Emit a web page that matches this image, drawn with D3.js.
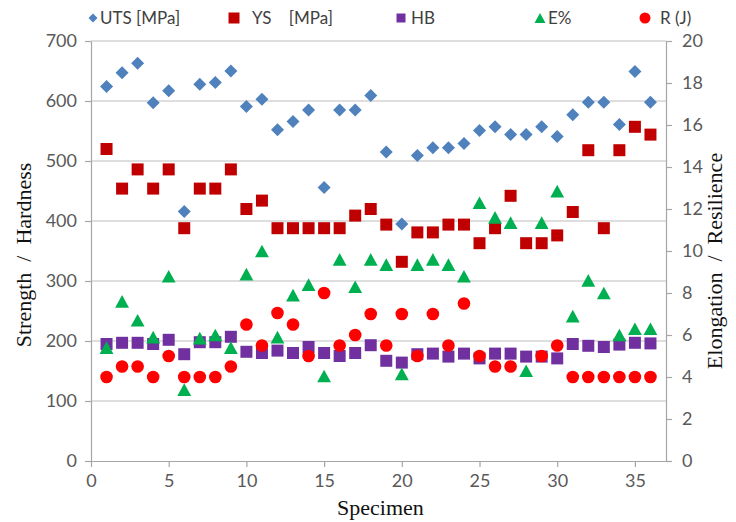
<!DOCTYPE html>
<html>
<head>
<meta charset="utf-8">
<script src="https://cdn.jsdelivr.net/npm/d3@7"></script>
<style>
  html, body { margin: 0; padding: 0; background: #fff; }
  svg { display: block; }
</style>
</head>
<body>
<svg id="chart" width="736" height="522"></svg>
<script>
// Mechanical properties per specimen
const specimens = [1,2,3,4,5,6,7,8,9,10,11,12,13,14,15,16,17,18,19,20,21,22,23,24,25,26,27,28,29,30,31,32,33,34,35,36];
const uts = [624,647,663,597,617,416,628,631,650,591,603,552,566,585,456,585,585,609,515,395,509,522,522,529,551,557,544,544,557,541,577,598,598,561,649,598];
const ys  = [520,454,486,454,486,388,454,454,486,420,434,388,388,388,388,388,409,420,394,332,381,381,394,394,363,388,442,363,363,376,415,518,388,518,557,544];
const hb  = [195,197,197,195,202,178,198,198,207,182,180,184,180,190,180,175,180,193,167,164,178,179,174,179,171,179,179,174,174,171,195,192,190,194,197,196];
const elong = [5.4,7.6,6.7,5.9,8.8,3.4,5.85,6.0,5.4,8.9,10.0,5.9,7.9,8.4,4.05,9.6,8.3,9.6,9.35,4.15,9.35,9.6,9.35,8.8,12.3,11.6,11.35,4.3,11.35,12.85,6.9,8.6,8.0,6.0,6.3,6.3];
const resil = [4.0,4.5,4.5,4.0,5.0,4.0,4.0,4.0,4.5,6.5,5.5,7.05,6.5,5.0,8.0,5.5,6.0,7.0,5.5,7.0,5.0,7.0,5.5,7.5,5.0,4.5,4.5,null,5.0,5.5,4.0,4.0,4.0,4.0,4.0,4.0];

const leftTicks  = [0,100,200,300,400,500,600,700];
const rightTicks = [0,2,4,6,8,10,12,14,16,18,20];
const xTicks     = [0,5,10,15,20,25,30,35];

const svg = d3.select("#chart");
const m = { left: 91, right: 666, top: 41, bottom: 461 };

const x  = d3.scaleLinear().domain([0, 37]).range([m.left, m.right]);
const yL = d3.scaleLinear().domain([0, 700]).range([m.bottom, m.top]);
const yR = d3.scaleLinear().domain([0, 20]).range([m.bottom, m.top]);

const tickFont = "Lato, 'Open Sans', sans-serif";
const titleFont = "'Liberation Serif', 'DejaVu Serif', serif";
const axisGrey = "#a6a6a6";
const textGrey = "#595959";

// horizontal gridlines on the strength axis
svg.append("g")
  .selectAll("line")
  .data(leftTicks.slice(1))
  .join("line")
  .attr("x1", m.left).attr("x2", m.right)
  .attr("y1", d => yL(d)).attr("y2", d => yL(d))
  .attr("stroke", "#bdbdbd").attr("stroke-width", 1.2);

function styleAxis(g) {
  g.select(".domain").attr("stroke", axisGrey).attr("stroke-width", 1.2);
  g.selectAll(".tick line").attr("stroke", axisGrey).attr("stroke-width", 1.2);
  g.selectAll(".tick text")
    .attr("fill", textGrey)
    .style("font-family", tickFont)
    .style("font-size", "18px");
}

svg.append("g")
  .attr("transform", `translate(${m.left},0)`)
  .call(d3.axisLeft(yL).tickValues(leftTicks).tickSize(6).tickSizeOuter(0).tickPadding(8))
  .call(styleAxis);

svg.append("g")
  .attr("transform", `translate(${m.right},0)`)
  .call(d3.axisRight(yR).tickValues(rightTicks).tickSize(6).tickSizeOuter(0).tickPadding(10))
  .call(styleAxis);

svg.append("g")
  .attr("transform", `translate(0,${m.bottom})`)
  .call(d3.axisBottom(x).tickValues(xTicks).tickSize(6).tickSizeOuter(0).tickPadding(7))
  .call(styleAxis);

// axis titles
svg.append("text")
  .attr("transform", `translate(31,${(m.top + m.bottom) / 2 + 4}) rotate(-90)`)
  .attr("text-anchor", "middle")
  .style("font-family", titleFont).style("font-size", "22px")
  .attr("fill", "#111")
  .attr("xml:space", "preserve")
  .text("Strength  /  Hardness");

svg.append("text")
  .attr("transform", `translate(722,${(m.top + m.bottom) / 2 + 10}) rotate(-90)`)
  .attr("text-anchor", "middle")
  .style("font-family", titleFont).style("font-size", "22px")
  .attr("fill", "#111")
  .attr("xml:space", "preserve")
  .text("Elongation  /  Resilience");

svg.append("text")
  .attr("x", (m.left + m.right) / 2 + 2).attr("y", 515)
  .attr("text-anchor", "middle")
  .style("font-family", titleFont).style("font-size", "22px")
  .attr("fill", "#111")
  .text("Specimen");

// marker shapes
const shapes = {
  diamond: s => `M0,${-s}L${s},0L0,${s}L${-s},0Z`,
  square: s => `M${-s},${-s}H${s}V${s}H${-s}Z`,
  triangle: s => `M0,${-s}L${s * 1.1},${s}L${-s * 1.1},${s}Z`,
  circle: s => d3.arc()({ innerRadius: 0, outerRadius: s, startAngle: 0, endAngle: 2 * Math.PI })
};

const series = [
  { name: "UTS [MPa]",   values: uts,   scale: yL, shape: "diamond",  size: 6.5, color: "#4f81bd" },
  { name: "YS    [MPa]", values: ys,    scale: yL, shape: "square",   size: 6,   color: "#c00000" },
  { name: "HB",          values: hb,    scale: yL, shape: "square",   size: 6,   color: "#7030a0" },
  { name: "E%",          values: elong, scale: yR, shape: "triangle", size: 6.3, color: "#00b050" },
  { name: "R (J)",       values: resil, scale: yR, shape: "circle",   size: 6.3, color: "#ff0000" }
];

series.forEach(s => {
  const pts = specimens.map((sp, i) => ({ sp, v: s.values[i] })).filter(d => d.v != null);
  svg.append("g")
    .selectAll("path")
    .data(pts)
    .join("path")
    .attr("transform", d => `translate(${x(d.sp)},${s.scale(d.v)})`)
    .attr("d", shapes[s.shape](s.size))
    .attr("fill", s.color);
});

// legend across the top
const legendItems = [
  { i: 0, mx: 93,  tx: 100, size: 4.5 },
  { i: 1, mx: 234, tx: 252, size: 5.5 },
  { i: 2, mx: 401, tx: 411, size: 4.5 },
  { i: 3, mx: 540, tx: 548, size: 5 },
  { i: 4, mx: 645, tx: 660, size: 5.5 }
];
const legend = svg.append("g");
legendItems.forEach(it => {
  const s = series[it.i];
  legend.append("path")
    .attr("transform", `translate(${it.mx},18)`)
    .attr("d", shapes[s.shape](it.size))
    .attr("fill", s.color);
  legend.append("text")
    .attr("x", it.tx).attr("y", 24)
    .attr("xml:space", "preserve")
    .style("font-family", tickFont).style("font-size", "17px")
    .attr("fill", "#404040")
    .text(s.name);
});
</script>
</body>
</html>
